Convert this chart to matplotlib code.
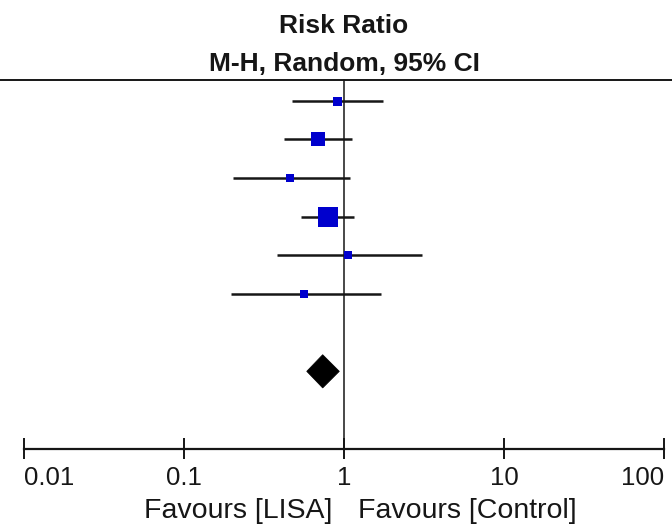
import matplotlib
matplotlib.use("Agg")
import matplotlib.pyplot as plt
import matplotlib.transforms as mtransforms
from matplotlib.patches import Polygon
import numpy as np

plt.rcParams["font.family"] = ["Liberation Sans", "DejaVu Sans"]

# study rows (top to bottom): risk ratio with 95% CI, weight (%)
RR = [0.91, 0.69, 0.46, 0.79, 1.06, 0.565]
CI_LO = [0.47, 0.424, 0.202, 0.536, 0.38, 0.197]
CI_HI = [1.745, 1.117, 1.09, 1.16, 3.06, 1.695]
WEIGHTS = [9.0, 23.3, 7.1, 46.5, 7.1, 7.1]

# pooled estimate (diamond)
POOLED = 0.736
POOLED_LO = 0.585
POOLED_HI = 0.935

TICKS = [0.01, 0.1, 1, 10, 100]
TICK_LABELS = ["0.01", "0.1", "1", "10", "100"]

INK = "#161616"
BLUE = "#0000CD"


def main() -> None:
    fig = plt.figure(figsize=(6.72, 5.25), dpi=100)
    ax = fig.add_axes([0, 0, 1, 1])
    ax.set_xscale("log")
    # 160.1 px per decade, x=1 sits at 344 px
    ax.set_xlim(10 ** (-344 / 160.1), 10 ** ((672 - 344) / 160.1))
    # row spacing 38.66 px, first row at 100.7 px
    ax.set_ylim((525 - 100.7) / 38.66, -100.7 / 38.66)
    ax.axis("off")

    rows = np.arange(len(RR))
    pooled_row = 7
    axis_row = 9
    top_row = -0.535

    # header rule and line of no effect
    ax.axhline(top_row, color=INK, lw=1.4)
    ax.plot([1, 1], [top_row, axis_row], color=INK, lw=1.1)

    # confidence intervals and weighted squares
    ax.hlines(rows, CI_LO, CI_HI, color=INK, lw=1.8, zorder=2)
    for r, rr, w in zip(rows, RR, WEIGHTS):
        side_px = 3.0 * np.sqrt(w)
        ax.plot(rr, r, marker="s", ms=side_px * 0.72, color=BLUE,
                mec=BLUE, mew=0, zorder=3)

    # pooled diamond
    dh = 0.43
    diamond = Polygon(
        [(POOLED_LO, pooled_row), (POOLED, pooled_row - dh),
         (POOLED_HI, pooled_row), (POOLED, pooled_row + dh)],
        closed=True, facecolor="black", edgecolor="black", lw=0.5, zorder=3,
    )
    ax.add_patch(diamond)

    # bottom scale
    ax.plot([TICKS[0], TICKS[-1]], [axis_row, axis_row], color=INK, lw=1.6)
    ax.vlines(TICKS, axis_row - 0.27, axis_row + 0.27, color=INK, lw=1.4)
    for i, (t, lab) in enumerate(zip(TICKS, TICK_LABELS)):
        ha = "left" if i == 0 else ("right" if i == len(TICKS) - 1 else "center")
        ax.text(t, 9.94, lab, ha=ha, va="baseline", fontsize=18.5, color=INK)

    left_tr = mtransforms.offset_copy(ax.transData, fig=fig, x=-12, y=0, units="dots")
    right_tr = mtransforms.offset_copy(ax.transData, fig=fig, x=14, y=0, units="dots")
    ax.text(1, 10.79, "Favours [LISA]", ha="right", va="baseline",
            fontsize=20.5, color=INK, transform=left_tr)
    ax.text(1, 10.79, "Favours [Control]", ha="left", va="baseline",
            fontsize=20.5, color=INK, transform=right_tr)

    # header
    ax.text(1, -1.751, "Risk Ratio", ha="center", va="baseline",
            fontsize=19, fontweight="bold", color=INK)
    ax.text(1, -0.768, "M-H, Random, 95% CI", ha="center", va="baseline",
            fontsize=19, fontweight="bold", color=INK)

    fig.savefig("out.png", dpi=100)


if __name__ == "__main__":
    main()
